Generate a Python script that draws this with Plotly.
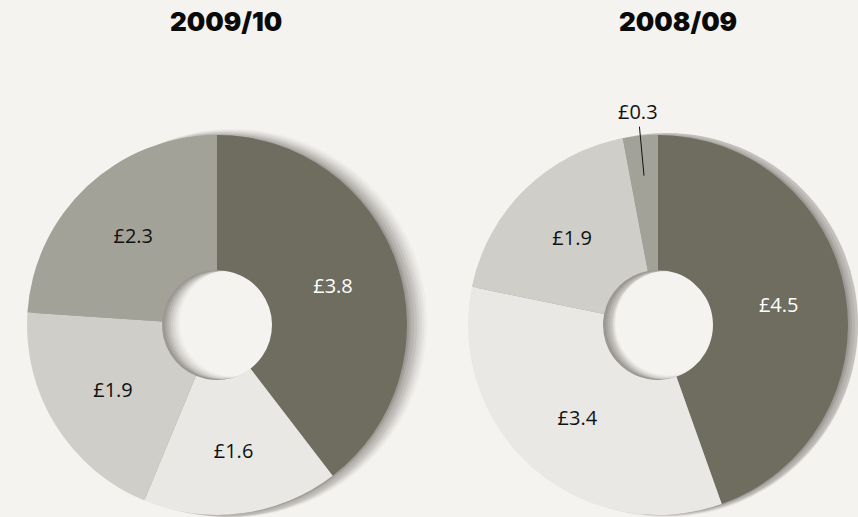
import math
import plotly.graph_objects as go

W, H = 858, 517

titles = ["2009/10", "2008/09"]
categories = ["A", "B", "C", "D"]
values_2009_10 = [3.8, 1.6, 1.9, 2.3]
values_2008_09 = [4.5, 3.4, 1.9, 0.3]
colors = ["#6e6d60", "#e9e8e5", "#cfcec9", "#a3a299"]
text_colors = ["#ffffff", "#111111", "#111111", "#111111"]

centers = [(217, 325), (658, 325)]
R = 190
HOLE_R = 55

def dom(cx, cy, r, dx=0, dy=0):
    x0 = (cx + dx - r) / W
    x1 = (cx + dx + r) / W
    y0 = 1 - (cy + dy + r) / H
    y1 = 1 - (cy + dy - r) / H
    return dict(x=[max(0, x0), min(1, x1)], y=[max(0, y0), min(1, y1)])

fig = go.Figure()

# soft drop shadow layers (also give an inner shadow in the hole)
shadow_layers = [(16, 6, 0.03), (14, 5, 0.045), (12, 4, 0.05), (10, 3, 0.06),
                 (8, 2, 0.07), (6, 1, 0.08), (4, 0, 0.09), (2, 0, 0.1)]
for (cx, cy) in centers:
    for dx, extra, op in shadow_layers:
        r = R + extra
        fig.add_trace(go.Pie(
            values=[1], labels=["s"], domain=dom(cx, cy, r, dx, 0),
            hole=(HOLE_R - 1) / r,
            marker=dict(colors=[f"rgba(40,35,30,{op})"], line=dict(width=0)),
            textinfo="none", hoverinfo="skip", showlegend=False, sort=False,
        ))

for vals, (cx, cy), show in [
    (values_2009_10, centers[0], [True] * 4),
    (values_2008_09, centers[1], [True, True, True, False]),
]:
    texts = [f"£{v:.1f}" if s else "" for v, s in zip(vals, show)]
    fig.add_trace(go.Pie(
        values=vals, labels=categories, domain=dom(cx, cy, R),
        hole=HOLE_R / R, sort=False, direction="clockwise", rotation=0,
        marker=dict(colors=colors, line=dict(width=0)),
        text=texts, textinfo="text", textposition="inside",
        insidetextorientation="horizontal",
        textfont=dict(family="Open Sans", size=20, color=text_colors),
        showlegend=False, hoverinfo="label+value",
    ))

    # small slices: label outside with a leader line, placed from slice angle
    total = sum(vals)
    cum = 0
    for v, s in zip(vals, show):
        if not s:
            mid = (cum + v / 2) / total * 2 * math.pi
            hx = cx + 150 * math.sin(mid)
            hy = cy - 150 * math.cos(mid)
            fig.add_annotation(
                text=f"£{v:.1f}", x=hx / W, y=1 - hy / H, xref="paper", yref="paper",
                showarrow=True, arrowhead=0, arrowwidth=1, arrowcolor="#111111",
                ax=-6, ay=-64, standoff=0,
                font=dict(family="Open Sans", size=20, color="#111111"),
            )
        cum += v

for t, (cx, cy) in zip(titles, [(226, 22), (678, 22)]):
    fig.add_annotation(
        text=t, x=cx / W, y=1 - cy / H, xref="paper", yref="paper",
        showarrow=False, xanchor="center", yanchor="middle",
        font=dict(family="Inter", size=26, color="#0a0a0a", weight=900),
    )

fig.update_layout(
    width=W, height=H, margin=dict(l=0, r=0, t=0, b=0),
    paper_bgcolor="#f5f3f0", plot_bgcolor="#f5f3f0",
)

fig.write_html("out.html")
